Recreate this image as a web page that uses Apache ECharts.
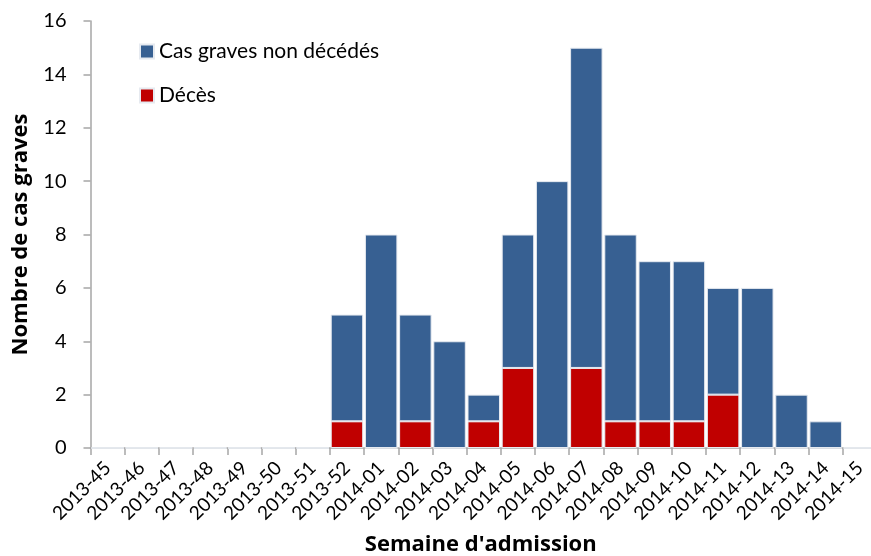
<!DOCTYPE html>
<html>
<head>
<meta charset="utf-8">
<script src="https://cdn.jsdelivr.net/npm/echarts@6/dist/echarts.min.js"></script>
<style>
  html, body { margin: 0; padding: 0; background: #fff; }
  #chart { width: 871px; height: 556px; }
</style>
</head>
<body>
<div id="chart"></div>
<script>
// Semaines d'admission
const weeks = [
  '2013-45', '2013-46', '2013-47', '2013-48', '2013-49', '2013-50', '2013-51', '2013-52',
  '2014-01', '2014-02', '2014-03', '2014-04', '2014-05', '2014-06', '2014-07', '2014-08',
  '2014-09', '2014-10', '2014-11', '2014-12', '2014-13', '2014-14', '2014-15'
];
// Décès par semaine
const deces = [0, 0, 0, 0, 0, 0, 0, 1, 0, 1, 0, 1, 3, 0, 3, 1, 1, 1, 2, 0, 0, 0, 0];
// Cas graves non décédés par semaine
const nonDecedes = [0, 0, 0, 0, 0, 0, 0, 4, 8, 4, 4, 1, 5, 10, 12, 7, 6, 6, 4, 6, 2, 1, 0];
// Graduations de l'axe vertical
const yTicks = [0, 2, 4, 6, 8, 10, 12, 14, 16];

const FONT = 'Lato';
const TITLE_FONT = 'Open Sans';
const chart = echarts.init(document.getElementById('chart'));

chart.setOption({
  animation: false,
  textStyle: { fontFamily: FONT },
  grid: { left: 90.5, right: -6, top: 21, bottom: 108, outerBoundsMode: 'none', containLabel: false },
  legend: {
    orient: 'vertical',
    left: 139,
    top: 41,
    padding: 0,
    itemWidth: 14,
    itemHeight: 14,
    itemGap: 23,
    icon: 'rect',
    data: ['Cas graves non décédés', 'Décès'],
    textStyle: { fontFamily: FONT, fontSize: 21, color: '#000' }
  },
  xAxis: {
    type: 'category',
    data: weeks,
    name: "Semaine d'admission",
    nameLocation: 'middle',
    nameGap: 86,
    nameTextStyle: { fontFamily: TITLE_FONT, fontSize: 22, fontWeight: 'bold', color: '#000', padding: [0, 0, 0, -6] },
    axisLine: { lineStyle: { color: '#a6a6a6', width: 1.5 } },
    axisTick: { show: true, length: 7, lineStyle: { color: '#a6a6a6', width: 1.5 } },
    axisLabel: { rotate: 45, fontSize: 19, color: '#000', margin: 17, interval: 0 }
  },
  yAxis: {
    type: 'value',
    min: yTicks[0],
    max: yTicks[yTicks.length - 1],
    interval: 2,
    name: 'Nombre de cas graves',
    nameLocation: 'middle',
    nameGap: 59,
    nameTextStyle: { fontFamily: TITLE_FONT, fontSize: 22, fontWeight: 'bold', color: '#000' },
    splitLine: { show: false },
    axisLine: { show: true, lineStyle: { color: '#a6a6a6', width: 1.5 } },
    axisTick: { show: true, length: 7, lineStyle: { color: '#a6a6a6', width: 1.5 } },
    axisLabel: { fontSize: 20, color: '#000', margin: 24 }
  },
  series: [
    {
      name: 'Décès',
      type: 'bar',
      stack: 'cas',
      data: deces,
      barCategoryGap: '5%',
      itemStyle: { color: '#c00000', borderColor: '#e6eaf0', borderWidth: 1 }
    },
    {
      name: 'Cas graves non décédés',
      type: 'bar',
      stack: 'cas',
      data: nonDecedes,
      barCategoryGap: '5%',
      itemStyle: { color: '#376092', borderColor: '#e6eaf0', borderWidth: 1 }
    }
  ]
});
</script>
</body>
</html>
